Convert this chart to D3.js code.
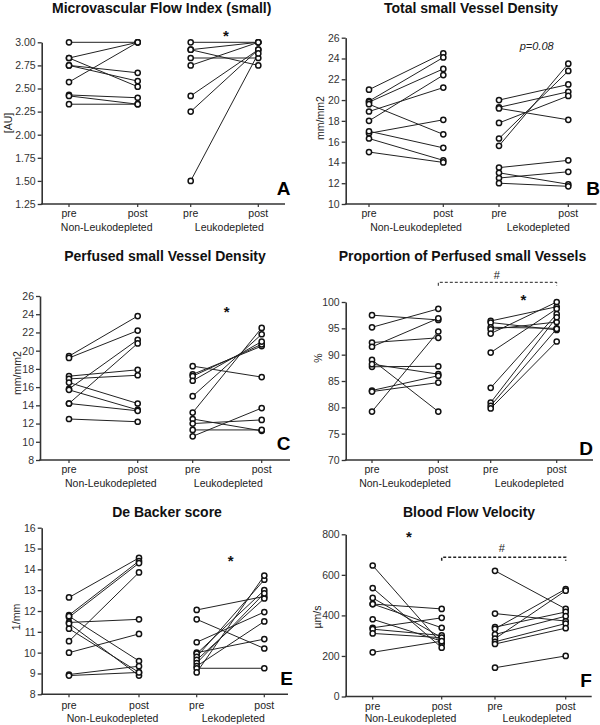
<!DOCTYPE html>
<html><head><meta charset="utf-8">
<script src="https://cdn.jsdelivr.net/npm/d3@7"></script>
<style>
body{margin:0;background:#fff;}
svg text{font-family:"Liberation Sans",Arial,sans-serif;}
</style></head><body>
<svg id="chart" width="600" height="725"></svg>
<script>
// ---------- data ----------
const categories = ["pre","post","pre","post"];
const groupsA = ["Non-Leukodepleted","Leukodepleted"];
const groupsB = ["Non-Leukodepleted","Lekodepleted"];
const groupsC = ["Non-Leukodepleted","Leukodepleted"];
const groupsD = ["Non-Leukodepleted","Leukodepleted"];
const groupsE = ["Non-Leukodepleted","Lekodepleted"];
const groupsF = ["Non-Leukodepleted","Leukodepleted"];

// A: Microvascular Flow Index (small)
const mfiNonPre  = [3.00, 2.83, 2.83, 2.75, 2.75, 2.57, 2.43, 2.42, 2.33];
const mfiNonPost = [3.00, 3.00, 2.52, 2.67, 2.58, 3.00, 2.40, 2.33, 2.33];
const mfiLeuPre  = [3.00, 2.92, 2.92, 2.83, 2.75, 2.42, 2.25, 1.50];
const mfiLeuPost = [3.00, 2.75, 3.00, 2.83, 3.00, 2.92, 2.92, 2.88];
const ticksA = [1.25,1.50,1.75,2.00,2.25,2.50,2.75,3.00];

// B: Total small Vessel Density
const tvdNonPre  = [21.0, 19.9, 19.8, 18.9, 18.0, 19.6, 16.8, 17.0, 16.3, 15.0];
const tvdNonPost = [24.5, 24.1, 23.0, 21.2, 22.4, 16.7, 18.1, 15.4, 14.2, 14.0];
const tvdLeuPre  = [20.0, 19.3, 19.2, 17.8, 16.3, 15.6, 13.5, 12.5, 13.0, 12.0];
const tvdLeuPost = [21.5, 20.8, 18.1, 20.4, 22.8, 23.5, 14.2, 13.1, 11.9, 11.7];
const ticksB = [10,12,14,16,18,20,22,24,26];

// C: Perfused small Vessel Density
const pvdNonPre  = [19.4, 19.2, 15.8, 14.2, 17.2, 16.9, 16.5, 15.7, 14.2, 12.5];
const pvdNonPost = [23.8, 22.2, 21.2, 20.8, 17.9, 17.3, 14.2, 13.5, 13.4, 12.2];
const pvdLeuPre  = [18.3, 17.4, 17.2, 16.7, 15.0, 13.2, 12.5, 12.0, 11.3, 10.6];
const pvdLeuPost = [17.1, 20.5, 20.7, 21.0, 21.8, 22.5, 11.2, 12.4, 11.3, 13.7];
const ticksC = [8,10,12,14,16,18,20,22,24,26];

// D: Proportion of Perfused small Vessels
const ppvNonPre  = [97.5, 95.2, 92.3, 91.5, 89.0, 87.7, 88.2, 83.2, 83.0, 79.2];
const ppvNonPost = [96.6, 98.7, 93.2, 96.9, 79.2, 87.8, 86.3, 86.0, 84.7, 94.4];
const ppvLeuPre  = [96.4, 96.1, 95.2, 94.8, 94.0, 90.4, 83.7, 80.9, 80.3, 79.8];
const ppvLeuPost = [99.1, 94.7, 95.0, 96.2, 100.0, 98.7, 97.7, 97.1, 94.9, 92.5];
const ticksD = [70,75,80,85,90,95,100];

// E: De Backer score
const dbNonPre  = [12.65, 11.8, 11.7, 10.55, 11.45, 10.0, 11.75, 11.15, 11.4, 8.95, 8.9];
const dbNonPost = [14.55, 14.4, 14.3, 13.85, 11.6, 10.9, 9.6, 9.05, 8.9, 9.35, 9.05];
const dbLeuPre  = [12.05, 11.6, 10.5, 10.0, 9.95, 9.8, 9.65, 9.5, 9.35, 9.25, 9.05];
const dbLeuPost = [12.7, 10.2, 11.95, 10.65, 13.0, 13.5, 12.6, 12.85, 11.5, 9.25, 13.7];
const ticksE = [8,9,10,11,12,13,14,15,16];

// F: Blood Flow Velocity
const velNonPre  = [646, 535, 486, 456, 456, 381, 339, 332, 311, 218];
const velNonPost = [260, 241, 290, 432, 339, 273, 388, 301, 290, 273];
const velLeuPre  = [620, 409, 342, 334, 306, 285, 270, 259, 142];
const velLeuPost = [432, 372, 417, 530, 396, 522, 360, 337, 200];
const ticksF = [0,200,400,600,800];

// ---------- layout ----------
const panels = [
 {title:"Microvascular Flow Index (small)", tx:161.7, ty:12.7, ylabel:"[AU]", lx:8, ly:123,
  letter:"A", ltx:283.5, lty:195, domain:[1.25,3.0], ticks:ticksA, fmt:".2f",
  axisX:41.7, yTop:42.3, yBot:204, xPos:[69,137.7,190.7,258.3], xEnd:285, catY:216.7, grpY:231,
  groups:groupsA, gx:[106.7,229.3], data:[mfiNonPre,mfiNonPost,mfiLeuPre,mfiLeuPost],
  notes:[{t:"*",x:226,y:32,k:"star"}]},
 {title:"Total small Vessel Density", tx:471, ty:13.3, ylabel:"mm/mm2", lx:320, ly:118,
  letter:"B", ltx:593, lty:195, domain:[10,26], ticks:ticksB, fmt:"d",
  axisX:345.7, yTop:37.7, yBot:204, xPos:[369,443.3,499,568.3], xEnd:596.5, catY:216.7, grpY:231,
  groups:groupsB, gx:[416,538.3], data:[tvdNonPre,tvdNonPost,tvdLeuPre,tvdLeuPost],
  notes:[{t:"p=0.08",x:536.7,y:45.7,k:"italic"}]},
 {title:"Perfused small Vessel Density", tx:165, ty:260.7, ylabel:"mm/mm2", lx:17, ly:373,
  letter:"C", ltx:283.7, lty:450, domain:[8,26], ticks:ticksC, fmt:"d",
  axisX:40, yTop:296, yBot:460, xPos:[69,137.7,192.7,261.7], xEnd:290, catY:473, grpY:487.3,
  groups:groupsC, gx:[110.8,228.3], data:[pvdNonPre,pvdNonPost,pvdLeuPre,pvdLeuPost],
  notes:[{t:"*",x:226.7,y:308.3,k:"star"}]},
 {title:"Proportion of Perfused small Vessels", tx:462.5, ty:260.7, ylabel:"%", lx:318, ly:358,
  letter:"D", ltx:586, lty:455, domain:[70,100], ticks:ticksD, fmt:"d",
  axisX:345.7, yTop:302, yBot:460, xPos:[372,438.3,490.7,556.7], xEnd:593, catY:473, grpY:487.3,
  groups:groupsD, gx:[405,529.3], data:[ppvNonPre,ppvNonPost,ppvLeuPre,ppvLeuPost],
  notes:[{t:"*",x:523.3,y:296.7,k:"star"},{t:"#",x:496.7,y:275,k:"hash"},
         {k:"bracket",x1:438.3,x2:556.7,y:282.3,w:1,dash:"3,2"}]},
 {title:"De Backer score", tx:167, ty:516.7, ylabel:"1/mm", lx:16, ly:617,
  letter:"E", ltx:286.7, lty:685, domain:[8,16], ticks:ticksE, fmt:"d",
  axisX:41.7, yTop:527.7, yBot:694.3, xPos:[69,139,196.7,264.3], xEnd:288, catY:708.5, grpY:721.5,
  groups:groupsE, gx:[112.5,233.3], data:[dbNonPre,dbNonPost,dbLeuPre,dbLeuPost],
  notes:[{t:"*",x:230.7,y:557.3,k:"star"}]},
 {title:"Blood Flow Velocity", tx:469, ty:516.7, ylabel:"\u00b5m/s", lx:317, ly:617,
  letter:"F", ltx:586, lty:686.7, domain:[0,800], ticks:ticksF, fmt:"d",
  axisX:345.7, yTop:534.3, yBot:696.5, xPos:[372.7,441.7,495,565.7], xEnd:591.7, catY:709.5, grpY:721.5,
  groups:groupsF, gx:[410.5,537], data:[velNonPre,velNonPost,velLeuPre,velLeuPost],
  notes:[{t:"*",x:409,y:533.3,k:"star"},{t:"#",x:501.7,y:548.3,k:"hash"},
         {k:"bracket",x1:441.7,x2:565.7,y:557.3,w:1.5,dash:"3,2"}]}
];

const svg = d3.select("#chart");
const ink = "#222";
const keys = ["g1pre","g1post","g2pre","g2post"];

panels.forEach(p => {
  const g = svg.append("g");
  const y = d3.scaleLinear().domain(p.domain).range([p.yBot, p.yTop]);
  const x = d3.scaleOrdinal().domain(keys).range(p.xPos);

  // title
  g.append("text").attr("x",p.tx).attr("y",p.ty).attr("text-anchor","middle")
   .attr("font-size",14).attr("font-weight","bold").attr("fill","#111").text(p.title);

  // y label
  g.append("text").attr("transform",`translate(${p.lx},${p.ly}) rotate(-90)`)
   .attr("text-anchor","middle").attr("dominant-baseline","central")
   .attr("font-size",10.5).attr("fill","#222").text(p.ylabel);

  // y axis
  const ya = d3.axisLeft(y).tickValues(p.ticks).tickFormat(d3.format(p.fmt))
     .tickSize(4).tickSizeOuter(0).tickPadding(2);
  const yg = g.append("g").attr("transform",`translate(${p.axisX},0)`).call(ya);
  yg.attr("font-family",null).attr("font-size",null);
  yg.select(".domain").attr("stroke","#333").attr("stroke-width",1.6);
  yg.selectAll(".tick line").attr("stroke","#333").attr("stroke-width",1.3);
  yg.selectAll(".tick text").attr("font-size",10.5).attr("fill","#333");

  // x axis line + small category ticks
  g.append("line").attr("x1",p.axisX-0.8).attr("x2",p.xEnd).attr("y1",p.yBot).attr("y2",p.yBot)
   .attr("stroke","#333").attr("stroke-width",1.6);
  g.selectAll(".xt").data(keys).join("line").attr("class","xt")
   .attr("x1",d=>x(d)).attr("x2",d=>x(d)).attr("y1",p.yBot).attr("y2",p.yBot+3)
   .attr("stroke","#333").attr("stroke-width",1.2);

  // category labels
  g.selectAll(".cat").data(keys).join("text").attr("class","cat")
   .attr("x",d=>x(d)).attr("y",p.catY).attr("text-anchor","middle")
   .attr("font-size",10.5).attr("fill",ink).text((d,i)=>categories[i]);

  // group labels
  g.selectAll(".grp").data(p.groups).join("text").attr("class","grp")
   .attr("x",(d,i)=>p.gx[i]).attr("y",p.grpY).attr("text-anchor","middle")
   .attr("font-size",10.5).attr("fill",ink).text(d=>d);

  // paired lines
  [0,1].forEach(gi => {
    const pre = p.data[2*gi], post = p.data[2*gi+1];
    const k0 = keys[2*gi], k1 = keys[2*gi+1];
    g.selectAll(null).data(d3.zip(pre,post)).join("line")
     .attr("x1",x(k0)).attr("x2",x(k1))
     .attr("y1",d=>y(d[0])).attr("y2",d=>y(d[1]))
     .attr("stroke",ink).attr("stroke-width",1);
  });
  // points
  [0,1,2,3].forEach(ci => {
    g.selectAll(null).data(p.data[ci]).join("circle")
     .attr("cx",x(keys[ci])).attr("cy",d=>y(d)).attr("r",2.6)
     .attr("fill","#fff").attr("stroke","#111").attr("stroke-width",1.5);
  });

  // panel letter
  g.append("text").attr("x",p.ltx).attr("y",p.lty).attr("text-anchor","middle")
   .attr("font-size",19).attr("font-weight","bold").attr("fill","#000").text(p.letter);

  // annotations
  p.notes.forEach(n => {
    if (n.k === "star") {
      g.append("text").attr("x",n.x).attr("y",n.y+8.6).attr("text-anchor","middle")
       .attr("font-size",15).attr("font-weight","bold").attr("fill","#111").text(n.t);
    } else if (n.k === "italic") {
      g.append("text").attr("x",n.x).attr("y",n.y+4).attr("text-anchor","middle")
       .attr("font-size",11).attr("font-style","italic").attr("fill","#222").text(n.t);
    } else if (n.k === "hash") {
      g.append("text").attr("x",n.x).attr("y",n.y+4).attr("text-anchor","middle")
       .attr("font-size",11).attr("fill","#222").text(n.t);
    } else if (n.k === "bracket") {
      g.append("path")
       .attr("d",`M${n.x1},${n.y+3.5}V${n.y}H${n.x2}V${n.y+3.5}`)
       .attr("fill","none").attr("stroke","#222").attr("stroke-width",n.w)
       .attr("stroke-dasharray",n.dash);
    }
  });
});
</script>
</body></html>
